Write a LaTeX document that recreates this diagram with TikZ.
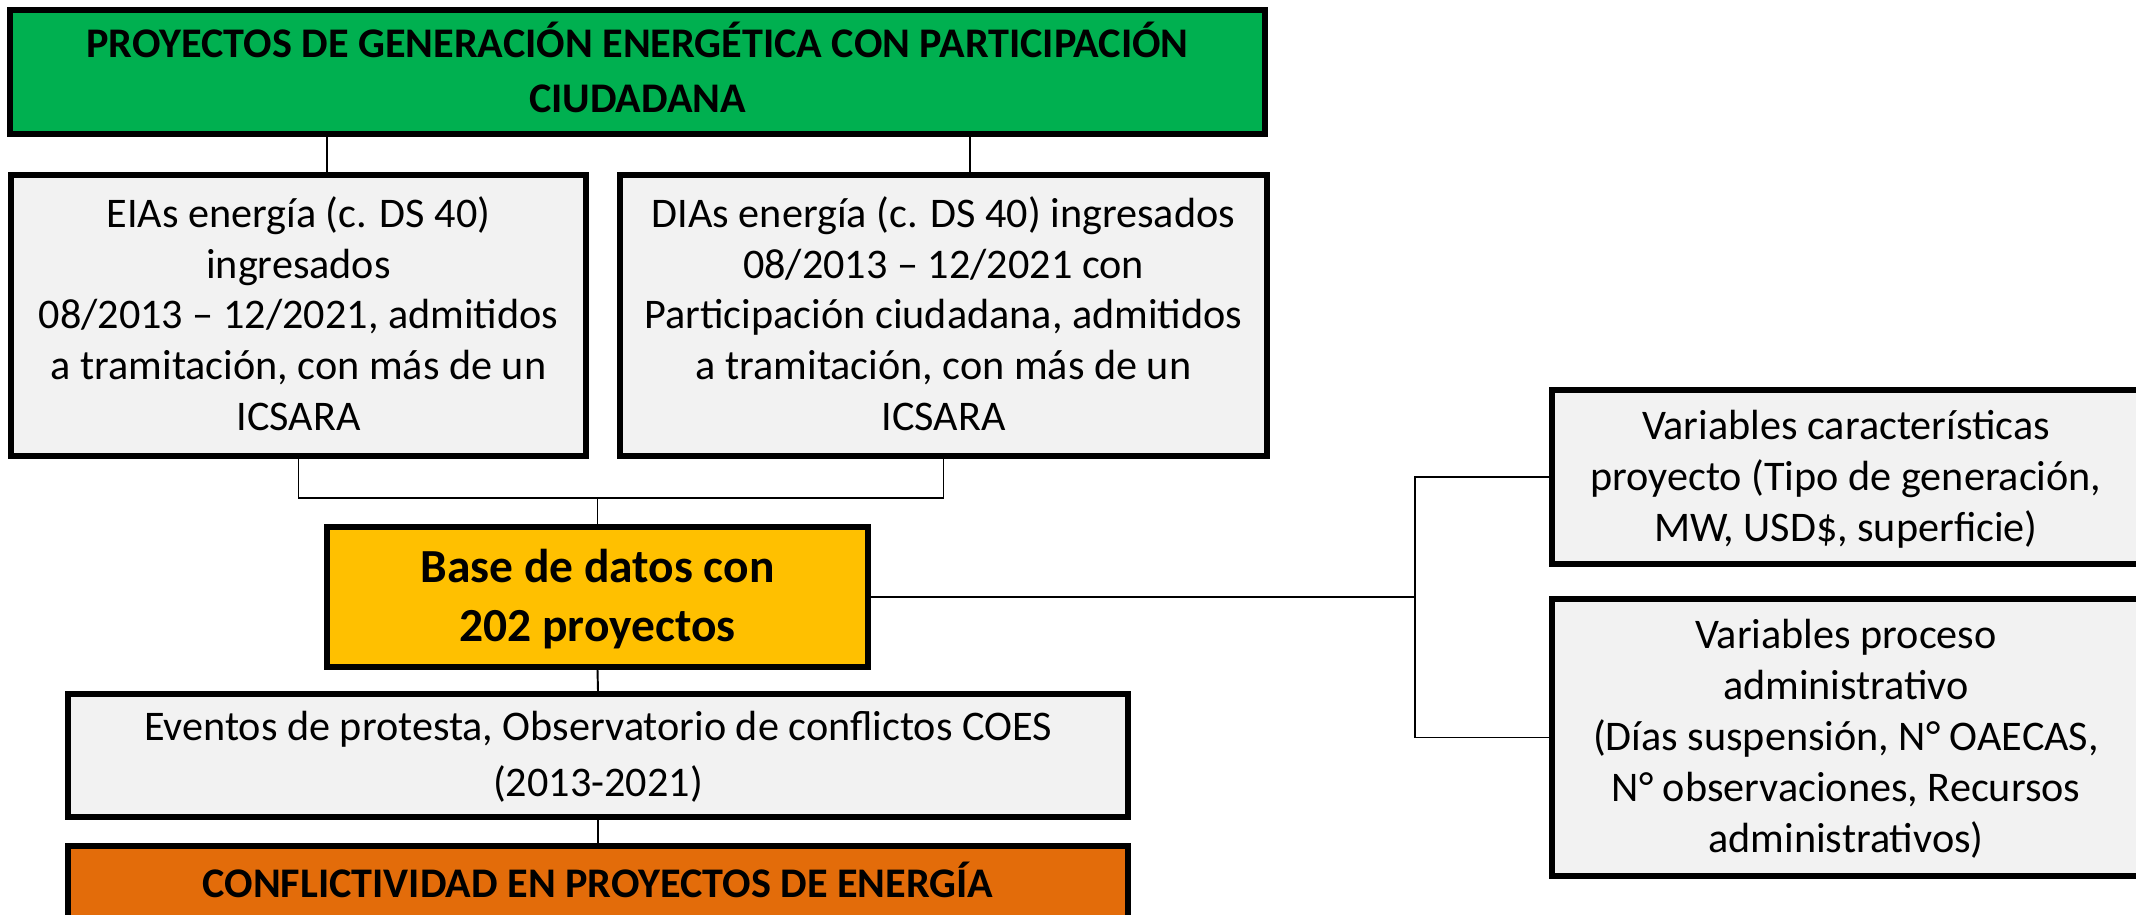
\documentclass[tikz,border=0pt]{standalone}
\usepackage{fontspec}
\setmainfont{Carlito}
\usepackage{tikz}
\usetikzlibrary{positioning}
\usetikzlibrary{calc}
\definecolor{hdgreen}{HTML}{00B050}
\definecolor{basegold}{HTML}{FFC000}
\definecolor{conforange}{HTML}{E36C0A}
\definecolor{boxgrey}{HTML}{F2F2F2}
\tikzset{
  box/.style={draw=black, line width=1.7pt, fill=boxgrey, align=center, inner sep=0pt,
    text height=7.6pt, text depth=0pt, font=\fontsize{12}{14.4}\selectfont},
  link/.style={line width=0.55pt}
}

\begin{document}
\begin{tikzpicture}[x=0.01cm, y=-0.01cm]
\clip (0,0) rectangle (2136,915);
\node (head) [box, fill=hdgreen, minimum width=12.55cm, minimum height=1.24cm,
  text height=23.2pt, font=\bfseries\fontsize{12}{15.6}\selectfont] at (637.5,72)
  {PROYECTOS DE GENERACIÓN ENERGÉTICA CON PARTICIPACIÓN\\CIUDADANA};
\node (eia) [box, minimum width=5.75cm, minimum height=2.8cm, text height=65.2pt] at (298.5,315.5)
  {EIAs energía (c. DS 40)\\ingresados\\08/2013 – 12/2021, admitidos\\a tramitación, con más de un\\ICSARA};
\node (dia) [box, minimum width=6.47cm, minimum height=2.8cm, text height=65.2pt] at (943.5,315.5)
  {DIAs energía (c. DS 40) ingresados\\08/2013 – 12/2021 con\\Participación ciudadana, admitidos\\a tramitación, con más de un\\ICSARA};
\node (base) [box, fill=basegold, minimum width=5.41cm, minimum height=1.39cm,
  text height=25.5pt, font=\bfseries\fontsize{13.5}{17}\selectfont] at (597.5,597)
  {Base de datos con\\202 proyectos};
\node (eventos) [box, minimum width=10.6cm, minimum height=1.23cm,
  text height=23.5pt, font=\fontsize{12}{15.9}\selectfont] at (598,755.5)
  {Eventos de protesta, Observatorio de conflictos COES\\(2013-2021)};
\node (conf) [box, fill=conforange, minimum width=10.6cm, minimum height=0.76cm,
  font=\bfseries\fontsize{12}{14.4}\selectfont] at (598,884)
  {CONFLICTIVIDAD EN PROYECTOS DE ENERGÍA};
\node (varc) [box, minimum width=5.88cm, minimum height=1.74cm,
  text height=36.8pt, font=\fontsize{12}{14.6}\selectfont] at (1846,477)
  {Variables características\\proyecto (Tipo de generación,\\MW, USD\$, superficie)};
\node (varp) [box, minimum width=5.88cm, minimum height=2.77cm,
  text height=65.6pt, font=\fontsize{12}{14.5}\selectfont] at (1846,737.5)
  {Variables proceso\\administrativo\\(Días suspensión, N° OAECAS,\\N° observaciones, Recursos\\administrativos)};
\coordinate (j1) at (597.5,498);
\coordinate (j2) at (1415,597);
\draw [link] ([xshift=0.285cm]eia.north) -- ([xshift=0.285cm]eia.north |- head.south);
\draw [link] ([xshift=0.265cm]dia.north) -- ([xshift=0.265cm]dia.north |- head.south);
\draw [link] (eia.south) |- (j1) -| (dia.south);
\draw [link] (j1) -- (base.north);
\draw [link] (base.south) -- (eventos.north);
\draw [link] (eventos.south) -- (conf.north);
\draw [link] (base.east) -- (j2);
\draw [link] (varc.west) -| (j2) |- (varp.west);
\end{tikzpicture}
\end{document}
